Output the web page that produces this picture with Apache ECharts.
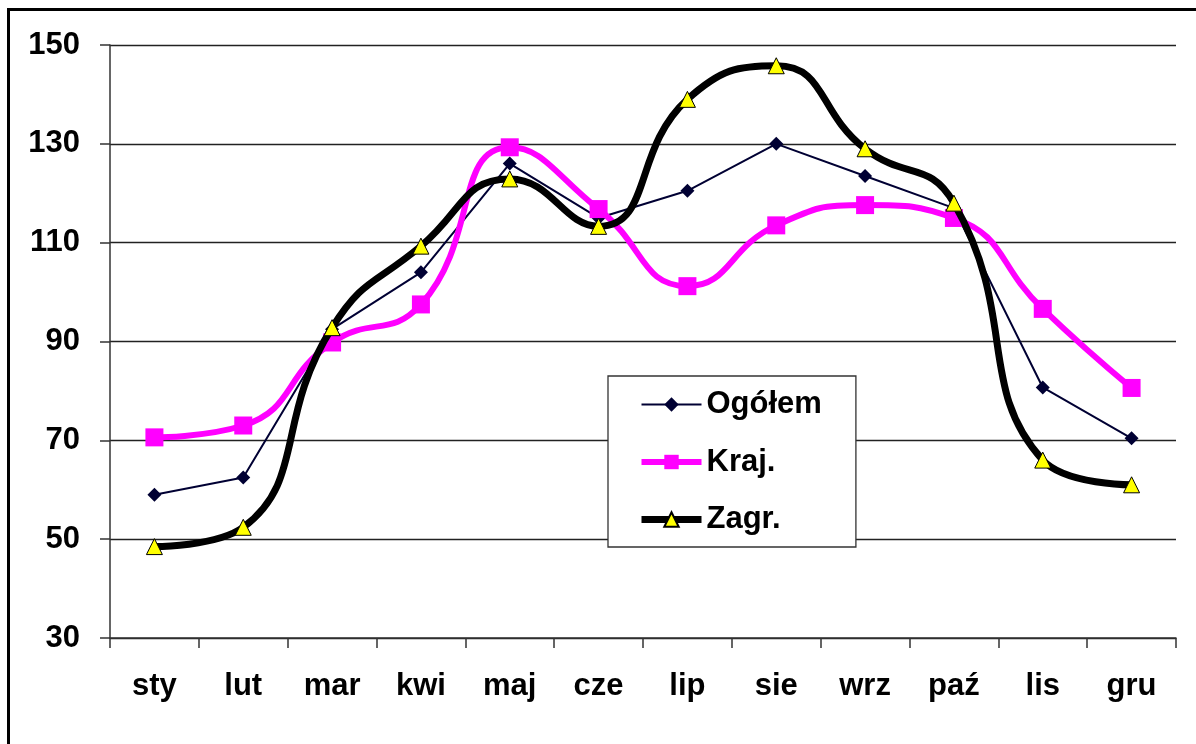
<!DOCTYPE html>
<html>
<head>
<meta charset="utf-8">
<script src="https://cdn.jsdelivr.net/npm/echarts@6/dist/echarts.min.js"></script>
<style>
html,body{margin:0;padding:0;background:#fff;overflow:hidden;}
#chart{position:absolute;left:0;top:0;width:1196px;height:744px;}
#frame{position:absolute;left:7px;top:8px;width:1400px;height:1000px;border:3px solid #000;pointer-events:none;}
</style>
</head>
<body>
<div id="chart"></div>
<div id="frame"></div>
<script>
const categories = ['sty','lut','mar','kwi','maj','cze','lip','sie','wrz','paź','lis','gru'];
const ogolem = [59, 62.5, 92.5, 104, 126, 115, 120.5, 130, 123.5, 117, 80.7, 70.4];
const kraj = [70.6, 73, 89.8, 97.5, 129.3, 116.8, 101.2, 113.5, 117.6, 115, 96.6, 80.6];
const zagr = [48.5, 52.4, 92.8, 109.3, 122.9, 113.3, 139, 145.8, 129, 118, 66, 61];
const yTicks = {min: 30, max: 150, interval: 20};
const seriesNames = ['Ogółem', 'Kraj.', 'Zagr.'];

const chart = echarts.init(document.getElementById('chart'), null, {renderer: 'canvas'});
const font = '"Liberation Sans", Arial, sans-serif';
const fs = 31;
chart.setOption({
  backgroundColor: '#ffffff',
  animation: false,
  grid: {left: 110, top: 45, right: 20, bottom: 106, containLabel: false},
  xAxis: {
    type: 'category',
    data: categories,
    boundaryGap: true,
    axisLine: {lineStyle: {color: '#333', width: 1.5}},
    axisTick: {show: true, length: 10, lineStyle: {color: '#333', width: 1.5}},
    axisLabel: {color: '#000', fontFamily: font, fontWeight: 'bold', fontSize: fs, margin: 33},
    splitLine: {show: false}
  },
  yAxis: {
    type: 'value',
    min: yTicks.min, max: yTicks.max, interval: yTicks.interval,
    axisLine: {show: true, lineStyle: {color: '#333', width: 1.5}},
    axisTick: {show: true, length: 10, lineStyle: {color: '#333', width: 1.5}},
    axisLabel: {color: '#000', fontFamily: font, fontWeight: 'bold', fontSize: fs, margin: 30},
    splitLine: {show: true, lineStyle: {color: '#222', width: 1.3}}
  },
  legend: {
    orient: 'vertical',
    left: 608, top: 376,
    backgroundColor: '#fff',
    borderColor: '#333', borderWidth: 1.3,
    padding: [13, 34, 12, 30],
    itemWidth: 60, itemHeight: 18, itemGap: 26.5,
    textStyle: {color: '#000', fontFamily: font, fontWeight: 'bold', fontSize: fs, lineHeight: 30},
    data: [
      {name: seriesNames[0], lineStyle: {width: 2}},
      {name: seriesNames[1], lineStyle: {width: 6}},
      {name: seriesNames[2], lineStyle: {width: 7}}
    ]
  },
  series: [
    {
      name: seriesNames[0], type: 'line', data: ogolem, smooth: false,
      symbol: 'diamond', symbolSize: 14,
      lineStyle: {color: '#000033', width: 2},
      itemStyle: {color: '#000033'},
      z: 2
    },
    {
      name: seriesNames[1], type: 'line', data: kraj, smooth: 0.5,
      symbol: 'rect', symbolSize: 18,
      lineStyle: {color: '#ff00ff', width: 6},
      itemStyle: {color: '#ff00ff'},
      z: 3
    },
    {
      name: seriesNames[2], type: 'line', data: zagr, smooth: 0.5,
      symbol: 'triangle', symbolSize: 16,
      lineStyle: {color: '#000', width: 7},
      itemStyle: {color: '#ffff00', borderColor: '#000', borderWidth: 1},
      z: 4
    }
  ]
});
</script>
</body>
</html>
